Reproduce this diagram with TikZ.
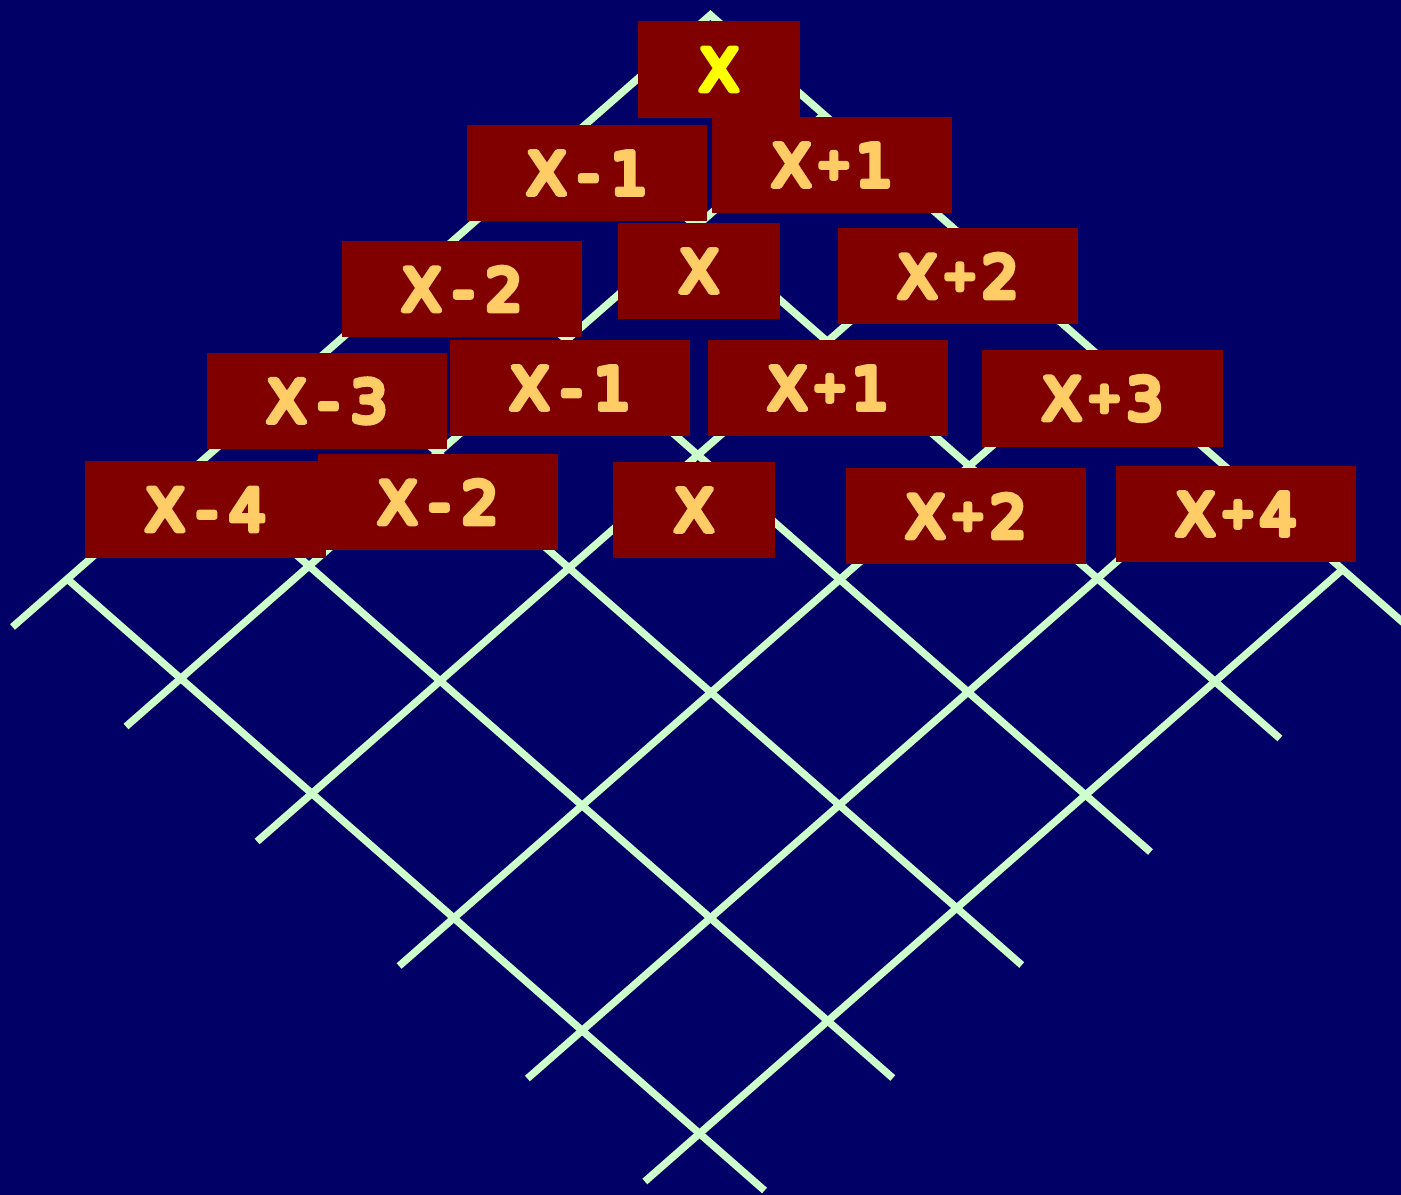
\documentclass[tikz,border=0pt]{standalone}
\usepackage{fontspec}
\newfontfamily\lblfont{DejaVu Sans}
\definecolor{bgc}{HTML}{000066}
\definecolor{gridc}{HTML}{CCFFCC}
\definecolor{boxc}{HTML}{800000}
\definecolor{txtc}{HTML}{FFCC66}
\definecolor{txty}{HTML}{FFFF00}
\newcommand\rndtxt{\special{pdf:literal direct 2 Tr 1 j 1 J 1.6 w}}
\newcommand\gp{\hspace{3.3pt}}
\newcommand\mn{\gp-\gp}
\newcommand\pl{\hspace{1.6pt}\raisebox{2.3pt}{\fontsize{11.5pt}{11.5pt}\selectfont+}\hspace{1.4pt}}
\begin{document}
\begin{tikzpicture}[x=0.01cm,y=-0.01cm,
  latline/.style={draw=gridc,line width=2.1pt},
  lbl/.style={fill=boxc,inner sep=0pt,outer sep=0pt,minimum height=0.96cm,
    text=txtc,font=\lblfont\fontsize{16.5pt}{16.5pt}\selectfont\rndtxt},
  wbox/.style={lbl,minimum width=2.4cm},
  nbox/.style={lbl,minimum width=1.62cm}]
\useasboundingbox (0,0) rectangle (1401,1195);
\clip (0,0) rectangle (1401,1195);
\fill[bgc] (0,0) rectangle (1401,1195);
% lattice
\coordinate (apex) at (710.4,15);
\draw[latline] (12.5,627) -- (apex) -- (1407.6,626.5);
\draw[latline] (823.8,114.5) -- (126.0,726.5);
\draw[latline] (955.0,229.5) -- (257.1,841.5);
\draw[latline] (1096.9,354) -- (399.1,966);
\draw[latline] (1225.2,466.5) -- (527.4,1078.5);
\draw[latline] (1342.6,569.5) -- (644.8,1181.5);
\draw[latline] (582.7,127) -- (1279.9,738.5);
\draw[latline] (453.2,240.5) -- (1150.5,852);
\draw[latline] (324.4,353.5) -- (1021.7,965);
\draw[latline] (195.6,466.5) -- (892.8,1078);
\draw[latline] (67.3,579) -- (764.5,1190.5);
% boxes
\node[nbox,text=txty,minimum height=0.97cm] (t0) at (719,69.5) {X};
\node[wbox] (a1) at (587,173) {X\mn1};
\node[wbox] (b1) at (832,165) {X\pl1};
\node[wbox] (a2) at (462,289) {X\mn2};
\node[nbox] (c2) at (699,271) {X};
\node[wbox] (b2) at (958,276) {X\pl2};
\node[wbox] (a3) at (327,401) {X\mn3};
\node[wbox] (d3) at (570,388) {X\mn1};
\node[wbox] (e3) at (828,388) {X\pl1};
\node[wbox] (b3) at (1102.5,398.5) {X\pl3};
\node[wbox,minimum width=2.41cm] (a4) at (205.5,509.5) {X\mn4};
\node[wbox] (d4) at (438,502) {X\mn2};
\node[nbox] (c4) at (694,510) {X};
\node[wbox] (e4) at (966,516) {X\pl2};
\node[wbox] (b4) at (1236,514) {X\pl4};
\end{tikzpicture}
\end{document}
